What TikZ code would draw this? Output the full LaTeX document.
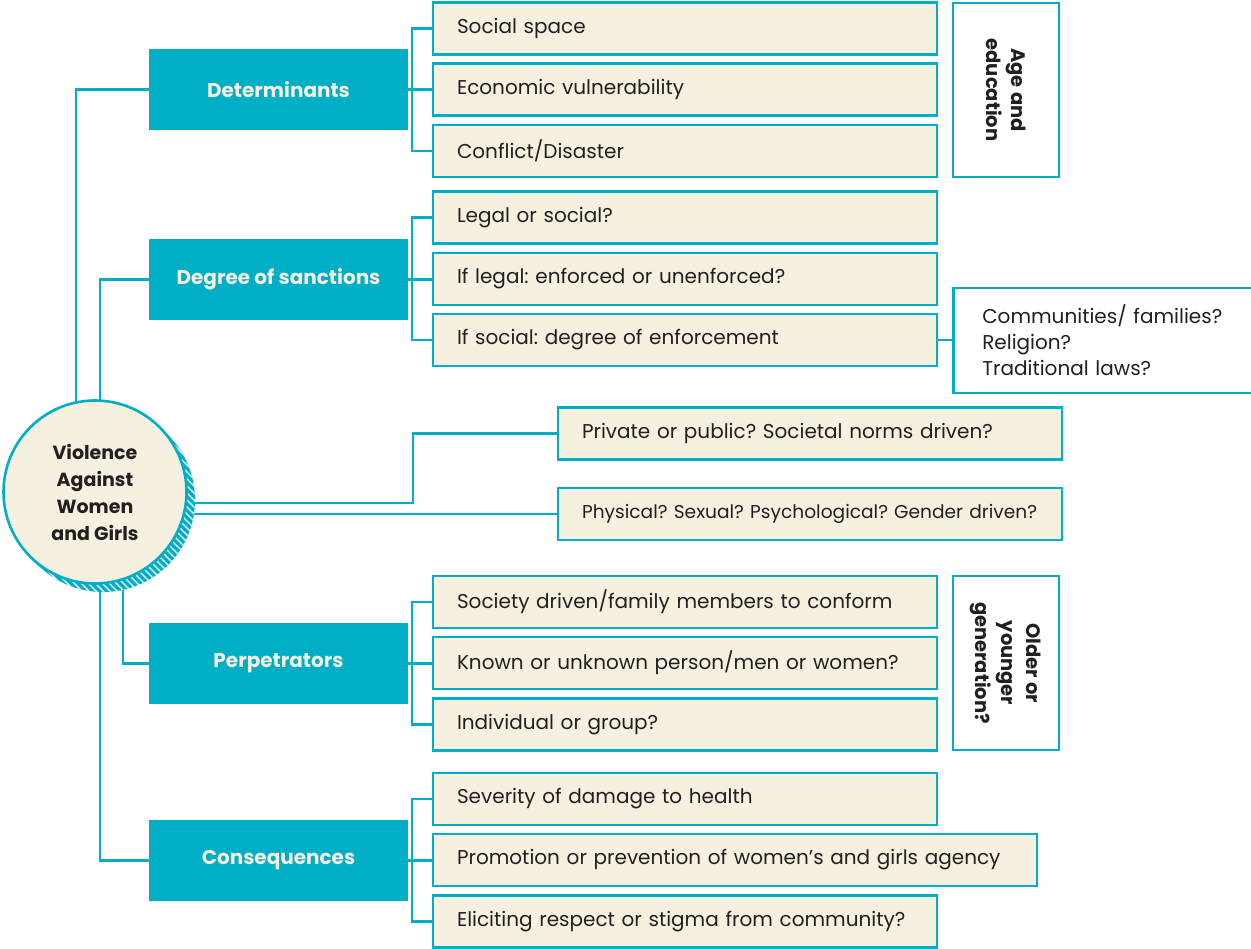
\documentclass[tikz,border=0pt]{standalone}
\usepackage{fontspec}
\setmainfont{Poppins}
\usetikzlibrary{positioning}
\definecolor{Teal}{HTML}{00AEC6}
\definecolor{Cream}{HTML}{F5F0E0}
\definecolor{Ink}{HTML}{231F20}
\frenchspacing

\begin{document}
\begin{tikzpicture}[x=1pt,y=-1pt,
mainbox/.style={fill=Teal,minimum width=259pt,minimum height=81pt,inner sep=0pt,text=Cream,font=\fontsize{20}{24}\selectfont\bfseries},
subbox/.style={draw=Teal,line width=2.6pt,fill=Cream,minimum height=52pt,inner xsep=24pt,text width=456pt,align=left,text=Ink,font=\fontsize{20}{24}\selectfont},
widebox/.style={subbox,text width=556pt},
sidebox/.style={draw=Teal,line width=2.6pt,fill=white,minimum width=174pt,minimum height=106pt,inner sep=0pt,align=center,text=Ink,font=\fontsize{19.5}{25.5}\selectfont\bfseries,rotate=-90},
conn/.style={draw=Teal,line width=2.2pt}]
\useasboundingbox (0,0) rectangle (1251,949);
\clip (0,0) rectangle (1251,949);
% hub and branches
\coordinate (hubc) at (95,492);
\node[mainbox] (det) at (278.5,89.5) {Determinants};
\node[mainbox] (sanc) at (278.5,279.5) {Degree of sanctions};
\node[mainbox] (perp) at (278.5,663.5) {Perpetrators};
\node[mainbox] (cons) at (278.5,860.5) {Consequences};
% determinants
\node[subbox] (space) at (685,28.5) {Social space};
\node[subbox] (econ) at (685,89.5) {Economic vulnerability};
\node[subbox] (confl) at (685,151) {Conflict/Disaster};
\node[sidebox] (age) at (1006,90) {Age and\\education};
% sanctions
\node[subbox] (legal) at (685,217.5) {Legal or social?};
\node[subbox] (iflegal) at (685,279) {If legal: enforced or unenforced?};
\node[subbox] (ifsoc) at (685,340) {If social: degree of enforcement};
\node[draw=Teal,line width=2.6pt,fill=white,anchor=west,minimum height=105pt,inner xsep=29pt,text width=262pt,align=left,text=Ink,font=\fontsize{20}{26}\selectfont] (comm) at (952,340.5) {Communities/ families?\\Religion?\\Traditional laws?};
% form
\node[subbox] (priv) at (810,433.5) {Private or public? Societal norms driven?};
\node[subbox,font=\fontsize{18.6}{24}\selectfont] (phys) at (810,514) {Physical? Sexual? Psychological? Gender driven?};
% perpetrators
\node[subbox] (press) at (685,602) {Society driven/family members to conform};
\node[subbox] (known) at (685,663) {Known or unknown person/men or women?};
\node[subbox] (indiv) at (685,724.5) {Individual or group?};
\node[sidebox] (gen) at (1006,663) {Older or\\younger\\generation?};
% consequences
\node[subbox] (sev) at (685,799) {Severity of damage to health};
\node[widebox] (prom) at (735,860) {Promotion or prevention of women's and girls agency};
\node[subbox] (elic) at (685,921.5) {Eliciting respect or stigma from community?};
% connectors
\draw[conn] ([xshift=-19pt]hubc) |- (det.west);
\draw[conn] ([xshift=5pt]hubc) |- (sanc.west);
\draw[conn] ([xshift=28pt]hubc) |- (perp.west);
\draw[conn] ([xshift=5pt]hubc) |- (cons.west);
\draw[conn] ([yshift=-11pt]hubc) -| ([xshift=-144pt]priv.west) -- (priv.west);
\draw[conn] (hubc |- phys.west) -- (phys.west);
\foreach \top/\mid/\bot/\grp in {space/econ/confl/det,legal/iflegal/ifsoc/sanc,press/known/indiv/perp,sev/prom/elic/cons}{
  \draw[conn] (\top.west) -| ([xshift=-20pt]\mid.west |- \top.west) |- (\bot.west);
  \draw[conn] (\grp.east) -- (\grp.east -| \mid.west);
}
\draw[conn] (ifsoc.east) -- (ifsoc.east -| comm.west);
% hatched shadow of the hub
\fill[Teal] ([shift={(8,8)}]hubc) circle (92);
\begin{scope}
\clip ([shift={(8,8)}]hubc) circle (92);
\foreach \c in {-600,-593,...,-190}{\draw[white,line width=1.4pt] (\c+400,400) -- (\c+610,610);}
\end{scope}
\node[circle,draw=Teal,line width=2.6pt,fill=Cream,minimum size=183pt,inner sep=0pt,align=center,text=Ink,font=\fontsize{19}{27}\selectfont\bfseries] (hub) at (hubc) {Violence\\Against\\Women\\and Girls};
\end{tikzpicture}
\end{document}
